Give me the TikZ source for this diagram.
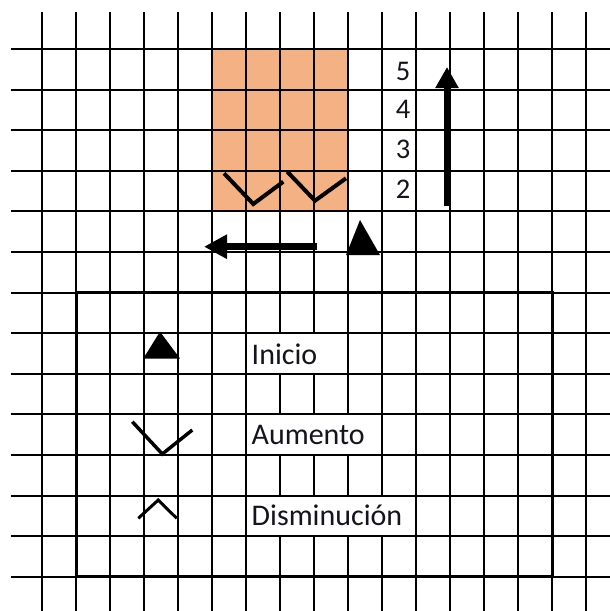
\documentclass[tikz,border=0pt]{standalone}
\usepackage{fontspec}
\setmainfont{Carlito}
\usetikzlibrary{arrows.meta}
\definecolor{cellorange}{RGB}{244,177,131}
\definecolor{txt}{RGB}{20,20,30}
\begin{document}
\begin{tikzpicture}[x=1pt,y=-1pt,
  gridline/.style={line width=2pt,black},
  frame/.style={line width=3pt,black},
  stitch/.style={line width=4pt,black,line join=miter,line cap=butt},
  whitecell/.style={fill=white},
  legendtext/.style={anchor=base west,inner sep=0pt,font=\fontsize{30}{32}\selectfont,text=txt},
  numtext/.style={anchor=base,inner sep=0pt,font=\fontsize{28.5}{30}\selectfont,text=txt},
  bigarrow/.style={-{Triangle[length=21pt,width=22pt]},black}
]
\useasboundingbox (0,0) rectangle (610,611);
% orange block
\fill[cellorange] (212,49) rectangle (348,211.4);
% white cells behind legend text
\fill[whitecell] (247,333.2) rectangle (348,373.8);
\fill[whitecell] (247,414.4) rectangle (382,455.0);
\fill[whitecell] (247,495.6) rectangle (416,536.2);
% grid
\foreach \k in {0,...,16} {
  \draw[gridline] ({42+34*\k},12) -- ({42+34*\k},333.2);
  \draw[gridline] ({42+34*\k},373.8) -- ({42+34*\k},414.4);
  \draw[gridline] ({42+34*\k},455.0) -- ({42+34*\k},495.6);
  \draw[gridline] ({42+34*\k},536.2) -- ({42+34*\k},611);
}
% vertical segments in legend rows, skipping the white cells
\foreach \k in {0,1,2,3,4,5,6,9,10,11,12,13,14,15,16}
  \draw[gridline] ({42+34*\k},333.2) -- ({42+34*\k},373.8);
\foreach \k in {0,1,2,3,4,5,6,10,11,12,13,14,15,16}
  \draw[gridline] ({42+34*\k},414.4) -- ({42+34*\k},455.0);
\foreach \k in {0,1,2,3,4,5,6,11,12,13,14,15,16}
  \draw[gridline] ({42+34*\k},495.6) -- ({42+34*\k},536.2);
\foreach \j in {0,...,13}
  \draw[gridline] (11,{49+40.6*\j}) -- (610,{49+40.6*\j});
% legend frame
\draw[frame] (76,292.6) rectangle (552,576.8);
% numbers
\node[numtext] (n5) at (403,80) {5};
\node[numtext] (n4) at (403,118.5) {4};
\node[numtext] (n3) at (403,158.5) {3};
\node[numtext] (n2) at (403,198.5) {2};
% up arrow
\coordinate (upS) at (447,206);
\coordinate (upE) at (447,67);
\draw[bigarrow,line width=6pt] (upS) -- (upE);
% left arrow
\coordinate (lfS) at (317,246.7);
\coordinate (lfE) at (204,246.7);
\draw[-{Triangle[length=23pt,width=23pt]},black,line width=7pt] (lfS) -- (lfE);
% start triangle
\fill[black] (360,220) -- (346,255) -- (380,255) -- cycle;
% increase marks in orange block
\draw[stitch] (224,173.3) -- (253.3,204) -- (283.3,181.7);
\draw[stitch] (287.3,171.7) -- (315,200.7) -- (346,178.3);
% legend symbols
\fill[black] (160,331.7) -- (143.3,358.5) -- (180,358.5) -- cycle;
\draw[stitch,line width=3.5pt] (132.3,421.7) -- (162.3,454) -- (192.3,430);
\draw[stitch,line width=3pt] (138.3,518.3) -- (158.3,500) -- (176.7,518.3);
% legend texts
\node[legendtext] (inicio) at (251.5,364) {Inicio};
\node[legendtext] (aumento) at (251.5,444.5) {Aumento};
\node[legendtext] (dismin) at (251.5,525) {Disminución};
\end{tikzpicture}
\end{document}
